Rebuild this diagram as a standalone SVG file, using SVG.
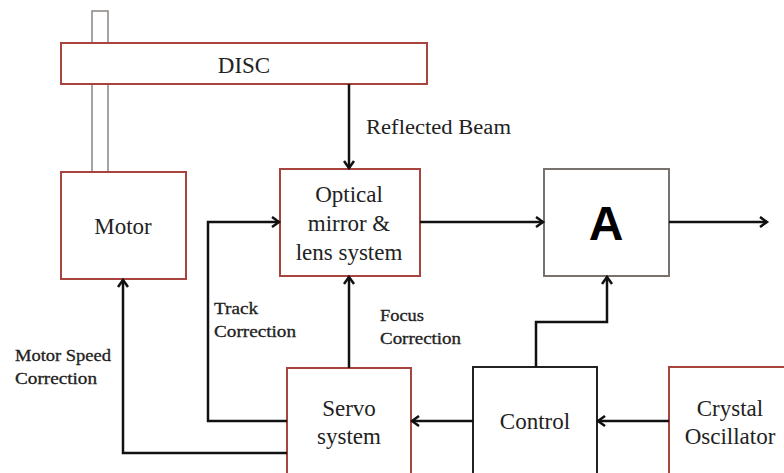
<svg xmlns="http://www.w3.org/2000/svg" width="784" height="473" viewBox="0 0 784 473">
<style>
.red{fill:#fff;stroke:#a8443e;stroke-width:2}
.gray{fill:#fff;stroke:#77726d;stroke-width:2}
.dark{fill:#fff;stroke:#222;stroke-width:2}
.t{font-family:"Liberation Serif",serif;font-size:23px;fill:#222;text-anchor:middle}
.s{font-family:"Liberation Serif",serif;font-size:16px;fill:#222;stroke:#222;stroke-width:0.3}
.c{fill:none;stroke:#111;stroke-width:2.5}
</style>
<defs>
<marker id="ah" markerWidth="12" markerHeight="12" refX="9" refY="6" orient="auto" markerUnits="userSpaceOnUse">
<path d="M2,1 L9,6 L2,11" fill="none" stroke="#111" stroke-width="2.5"/>
</marker>
</defs>
<rect width="784" height="473" fill="#fff"/>
<g id="shaft">
<rect x="92" y="11" width="16" height="161" fill="#fff" stroke="#8a8580" stroke-width="1.5"/>
</g>
<g id="disc">
<rect class="red" x="61" y="43" width="366" height="41"/>
<text class="t" x="244" y="73">DISC</text>
</g>
<g id="motor">
<rect class="red" x="61" y="172" width="125" height="107"/>
<text class="t" x="123" y="234">Motor</text>
</g>
<g id="optical">
<rect class="red" x="280" y="169" width="140" height="107"/>
<text class="t" x="349" y="202">Optical</text>
<text class="t" x="349" y="231">mirror &amp;</text>
<text class="t" x="349" y="260">lens system</text>
</g>
<g id="a">
<rect class="gray" x="544" y="169" width="125" height="107"/>
<text x="606" y="240" font-family="Liberation Sans,Arial,sans-serif" font-size="48" font-weight="bold" fill="#000" text-anchor="middle">A</text>
</g>
<g id="servo">
<rect class="red" x="287" y="368" width="124" height="110"/>
<text class="t" x="349" y="416">Servo</text>
<text class="t" x="349" y="444">system</text>
</g>
<g id="control">
<rect class="dark" x="473" y="367" width="124" height="111"/>
<text class="t" x="535" y="429">Control</text>
</g>
<g id="crystal">
<rect class="red" x="669" y="367" width="125" height="111"/>
<text class="t" x="730" y="416">Crystal</text>
<text class="t" x="730" y="444">Oscillator</text>
</g>
<g id="connectors">
<path class="c" d="M349,84 V168" marker-end="url(#ah)"/>
<path class="c" d="M420,222 H543" marker-end="url(#ah)"/>
<path class="c" d="M669,222 H767" marker-end="url(#ah)"/>
<path class="c" d="M287,421 H208 V222 H279" marker-end="url(#ah)"/>
<path class="c" d="M349,368 V277" marker-end="url(#ah)"/>
<path class="c" d="M287,453 H123 V280" marker-end="url(#ah)"/>
<path class="c" d="M473,421 H412" marker-end="url(#ah)"/>
<path class="c" d="M669,421 H598" marker-end="url(#ah)"/>
<path class="c" d="M536,367 V322 H607 V277" marker-end="url(#ah)"/>
</g>
<g id="labels">
<text x="366" y="134" font-family="Liberation Serif,serif" font-size="20" fill="#222" textLength="145" lengthAdjust="spacingAndGlyphs">Reflected Beam</text>
<text class="s" x="214" y="314" textLength="44" lengthAdjust="spacingAndGlyphs">Track</text>
<text class="s" x="214" y="337" textLength="82" lengthAdjust="spacingAndGlyphs">Correction</text>
<text class="s" x="380" y="321" textLength="44" lengthAdjust="spacingAndGlyphs">Focus</text>
<text class="s" x="380" y="344" textLength="81" lengthAdjust="spacingAndGlyphs">Correction</text>
<text class="s" x="15" y="361" textLength="96" lengthAdjust="spacingAndGlyphs">Motor Speed</text>
<text class="s" x="15" y="384" textLength="82" lengthAdjust="spacingAndGlyphs">Correction</text>
</g>
</svg>
